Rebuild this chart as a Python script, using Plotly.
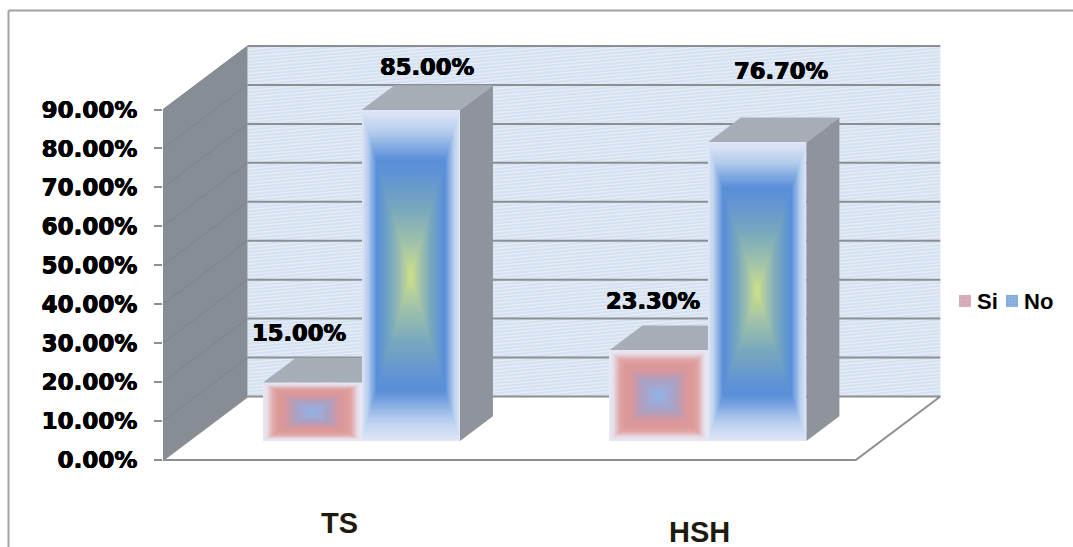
import numpy as np
import plotly.graph_objects as go

# Chart data
categories = ["TS", "HSH"]
series_names = ["Si", "No"]
si_values = [0.15, 0.233]
no_values = [0.85, 0.767]
tick_values = [0.0, 0.1, 0.2, 0.3, 0.4, 0.5, 0.6, 0.7, 0.8, 0.9]

# Canvas and axis scale
WIDTH, HEIGHT = 1073, 547
PLOT_LEFT = 163
ZERO_PIXEL = 460
PX_PER_VALUE = 389.4
PX_PER_CATEGORY = 346.5
FIRST_CATEGORY_PIXEL = 336

# Oblique projection: one full unit of depth moves a point right and up
DEPTH_X = 84.5 / PX_PER_CATEGORY
DEPTH_Y = 63.5 / PX_PER_VALUE
BAR_FRONT, BAR_BACK = 0.30, 0.69
BAR_WIDTH = 98.5 / PX_PER_CATEGORY
X_MIN, X_MAX = -0.5, (WIDTH - FIRST_CATEGORY_PIXEL) / PX_PER_CATEGORY
Y_MIN = (ZERO_PIXEL - HEIGHT) / PX_PER_VALUE
Y_MAX = ZERO_PIXEL / PX_PER_VALUE
TOP_VALUE = tick_values[-1]

WALL_SIDE = "#878d94"
WALL_SIDE_GRID = "#7c8289"
WALL_BACK = "#d5e1f1"
WALL_STRIPE = "#e4ecf7"
GRID = "#8b8f93"
FACE_TOP = "#a7adb6"
FACE_SIDE = "#8f939b"
HEAVY = "0.5px 0 0 #000, -0.4px 0 0 #000, 0 0.3px 0 #000"

SI_STOPS = [(0.0, "#e8e8f2"), (0.08, "#e6dde8"), (0.20, "#e0a8a8"), (0.30, "#dd9a98"),
            (0.45, "#d8979c"), (0.65, "#ad9fc0"), (1.0, "#92b4ea")]
NO_STOPS = [(0.0, "#dfe6f6"), (0.12, "#b9cfee"), (0.30, "#598ed9"), (0.38, "#5f93d5"),
            (0.60, "#78a8bd"), (0.80, "#a0c2aa"), (1.0, "#cfe088")]


def project(x, y, depth):
    return x + depth * DEPTH_X, y + depth * DEPTH_Y


def polygon(points, color, zorder=0):
    xs = [p[0] for p in points] + [points[0][0]]
    ys = [p[1] for p in points] + [points[0][1]]
    return go.Scatter(x=xs, y=ys, mode="none", fill="toself", fillcolor=color,
                      showlegend=False, hoverinfo="skip", zorder=zorder)


def line(points, color, width, zorder=0):
    return go.Scatter(x=[p[0] for p in points], y=[p[1] for p in points], mode="lines",
                      line=dict(color=color, width=width), showlegend=False,
                      hoverinfo="skip", zorder=zorder)


def hex_rgb(color):
    return np.array([int(color[i:i + 2], 16) for i in (1, 3, 5)], dtype=float)


def blend(stops, t):
    ts = [s[0] for s in stops]
    rgb = np.array([hex_rgb(s[1]) for s in stops])
    c = [np.interp(t, ts, rgb[:, i]) for i in range(3)]
    return "rgb(%d,%d,%d)" % tuple(round(v) for v in c)


def bar_faces(center, value, zorder):
    """Side and top faces of a bar standing on the category floor."""
    left, right = center - BAR_WIDTH / 2, center + BAR_WIDTH / 2
    side = [project(right, 0, BAR_FRONT), project(right, 0, BAR_BACK),
            project(right, value, BAR_BACK), project(right, value, BAR_FRONT)]
    top = [project(left, value, BAR_FRONT), project(right, value, BAR_FRONT),
           project(right, value, BAR_BACK), project(left, value, BAR_BACK)]
    return [polygon(side, FACE_SIDE, zorder), polygon(top, FACE_TOP, zorder)]


def bar_front(center, value, stops, zorder, steps=140):
    """Front face: nested bars shrinking to the centre give a rectangular gradient."""
    fx, base = project(center, 0, BAR_FRONT)
    ts = np.linspace(0, 1, steps, endpoint=False)
    widths = BAR_WIDTH * (1 - ts)
    heights = value * (1 - ts)
    bases = base + (value - heights) / 2
    return go.Bar(x=[fx] * steps, y=heights, base=bases, width=widths,
                  marker=dict(color=[blend(stops, t) for t in ts], line=dict(width=0)),
                  showlegend=False, hoverinfo="skip", zorder=zorder)


fig = go.Figure()

# Floor
floor = [project(X_MIN, 0, 0), project(X_MIN + 2, 0, 0), project(X_MIN + 2, 0, 1), project(X_MIN, 0, 1)]
fig.add_trace(polygon(floor, "#ffffff"))

# Back wall with its fine slanted stripes
wall_l, wall_b = project(X_MIN, 0, 1)
wall_r, wall_t = project(X_MIN + 2, TOP_VALUE, 1)
fig.add_trace(polygon([(wall_l, wall_b), (wall_r, wall_b), (wall_r, wall_t), (wall_l, wall_t)], WALL_BACK))
rise = 0.07 * PX_PER_VALUE / PX_PER_CATEGORY
spacing = 3.4 / PX_PER_VALUE
stripe_x, stripe_y = [], []
for y0 in np.arange(wall_b - rise * (wall_r - wall_l), wall_t, spacing):
    x_a = max(wall_l, wall_l + (wall_b - y0) / rise)
    x_b = min(wall_r, wall_l + (wall_t - y0) / rise)
    if x_b > x_a:
        stripe_x += [x_a, x_b, None]
        stripe_y += [y0 + rise * (x_a - wall_l), y0 + rise * (x_b - wall_l), None]
fig.add_trace(go.Scatter(x=stripe_x, y=stripe_y, mode="lines",
                         line=dict(color=WALL_STRIPE, width=1.4), showlegend=False, hoverinfo="skip"))

# Side wall
side_wall = [project(X_MIN, 0, 0), project(X_MIN, 0, 1), project(X_MIN, TOP_VALUE, 1), project(X_MIN, TOP_VALUE, 0)]
fig.add_trace(polygon(side_wall, WALL_SIDE))

# Gridlines along both walls
for tick in tick_values[1:]:
    fig.add_trace(line([project(X_MIN, tick, 0), project(X_MIN, tick, 1)], WALL_SIDE_GRID, 1))
    fig.add_trace(line([project(X_MIN, tick, 1), project(X_MIN + 2, tick, 1)], GRID, 2))

# Floor outline
fig.add_trace(line([project(X_MIN, 0, 1), project(X_MIN + 2, 0, 1), project(X_MIN + 2, 0, 0),
                    project(X_MIN, 0, 0), project(X_MIN, 0, 1)], GRID, 2))

# Bars: each category holds Si then No, side by side
for i, _ in enumerate(categories):
    si_center = i - BAR_WIDTH / 2
    no_center = i + BAR_WIDTH / 2
    for trace in bar_faces(si_center, si_values[i], 1):
        fig.add_trace(trace)
    fig.add_trace(bar_front(si_center, si_values[i], SI_STOPS, 2))
    for trace in bar_faces(no_center, no_values[i], 3):
        fig.add_trace(trace)
    fig.add_trace(bar_front(no_center, no_values[i], NO_STOPS, 4))

annotations = []

# Compact legend: small hatched keys, each followed closely by its series name
LEGEND_CENTER_PX = 301
LEGEND_KEY_PX = 11.5
legend_key_left = [959.2, 1006.2]
legend_text_left = [975, 1022]
legend_colors = [("#dcaeb8", "#b9a7c6"), ("#8db5e0", "#6d9bd0")]
for name, key_left, text_left, (bg, fg) in zip(series_names, legend_key_left, legend_text_left, legend_colors):
    key_x = (key_left + LEGEND_KEY_PX / 2 - FIRST_CATEGORY_PIXEL) / PX_PER_CATEGORY
    key_base = (ZERO_PIXEL - LEGEND_CENTER_PX - LEGEND_KEY_PX / 2) / PX_PER_VALUE
    fig.add_trace(go.Bar(name=name, x=[key_x], y=[LEGEND_KEY_PX / PX_PER_VALUE], base=[key_base],
                         width=[LEGEND_KEY_PX / PX_PER_CATEGORY], showlegend=False, hoverinfo="skip",
                         marker=dict(color=bg, line=dict(width=0),
                                     pattern=dict(shape="+", fgcolor=fg, size=3, solidity=0.35))))
    annotations.append(dict(x=(text_left - FIRST_CATEGORY_PIXEL) / PX_PER_CATEGORY,
                            y=(ZERO_PIXEL - LEGEND_CENTER_PX) / PX_PER_VALUE,
                            xref="x", yref="y", xanchor="left", text=name, showarrow=False,
                            font=dict(family="Liberation Sans", size=22, color="#000000", weight="bold")))

# Value labels sit above each bar, offset by hand in pixels
label_offsets = {("Si", 0): (-13, 50), ("No", 0): (16, 43), ("Si", 1): (-6, 49), ("No", 1): (24, 71)}
for name, values, sign in (("Si", si_values, -1), ("No", no_values, 1)):
    for i, value in enumerate(values):
        fx, base = project(i + sign * BAR_WIDTH / 2, value, BAR_FRONT)
        dx, dy = label_offsets[(name, i)]
        annotations.append(dict(x=fx, y=base, xref="x", yref="y", text=f"{value * 100:.2f}%",
                                showarrow=False, xshift=dx, yshift=dy,
                                font=dict(family="DejaVu Sans", size=22.6, color="#000000",
                                          weight="bold", shadow=HEAVY)))

# Category names, placed by hand below the floor
category_offsets = [(3, -63), (17, -72)]
for i, name in enumerate(categories):
    dx, dy = category_offsets[i]
    annotations.append(dict(x=i, y=0, xref="x", yref="y", text=name, showarrow=False,
                            xshift=dx, yshift=dy,
                            font=dict(family="Liberation Sans", size=29, color="#1e1a0e", weight="bold")))

# Outer frame, open on the right and at the bottom
frame_x = (8.5 - PLOT_LEFT) / (WIDTH - PLOT_LEFT)
shapes = [
    dict(type="line", xref="paper", yref="paper", x0=frame_x, x1=1, y0=1 - 10.5 / HEIGHT, y1=1 - 10.5 / HEIGHT,
         line=dict(color="#a2a2a2", width=2)),
    dict(type="line", xref="paper", yref="paper", x0=frame_x, x1=frame_x, y0=0, y1=1 - 10.5 / HEIGHT,
         line=dict(color="#a2a2a2", width=2)),
]

fig.update_layout(
    width=WIDTH, height=HEIGHT,
    margin=dict(l=PLOT_LEFT, r=0, t=0, b=0),
    paper_bgcolor="#ffffff", plot_bgcolor="#ffffff",
    barmode="overlay", bargap=0,
    showlegend=False,
    xaxis=dict(range=[X_MIN, X_MAX], visible=False, fixedrange=True),
    yaxis=dict(range=[Y_MIN, Y_MAX], tickvals=tick_values, tickformat=".2%",
               ticks="outside", ticklen=8, tickwidth=2, tickcolor=GRID,
               showgrid=False, zeroline=False, showline=False, fixedrange=True,
               ticklabelstandoff=12,
               tickfont=dict(family="DejaVu Sans", size=23, color="#000000",
                             weight="bold", shadow=HEAVY)),
    annotations=annotations, shapes=shapes,
)

fig.write_html("out.html")
